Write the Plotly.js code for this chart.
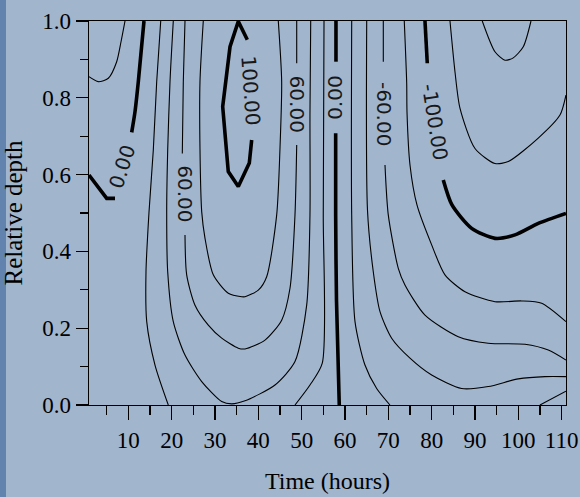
<!DOCTYPE html>
<html>
<head>
<meta charset="utf-8">
<script src="https://cdn.plot.ly/plotly-3.0.1.min.js"></script>
<style>
html, body { margin: 0; padding: 0; background: #a1b5cd; }
#chart { width: 580px; height: 497px; }
</style>
</head>
<body>
<div id="chart"></div>
<script>
// ---- Contour lines (x = time in hours, y = relative depth) ----
// level -20 (top-left corner)
const negTwentyTopLeftX = [0.93, 3.08, 5.39, 7.32, 8.32, 9.24];
const negTwentyTopLeftY = [0.855, 0.842, 0.851, 0.894, 0.946, 1.0];
// level 0 (left, split by its label)
const zeroLeftLowX = [0.93, 5.02, 6.93];
const zeroLeftLowY = [0.599, 0.538, 0.538];
const zeroLeftHighX = [10.78, 11.55, 12.31, 13.62];
const zeroLeftHighY = [0.710, 0.764, 0.842, 1.0];
// level 20 (left branch)
const twentyLeftX = [17.48, 16.55, 15.77, 14.78, 14.08, 14.25, 16.16, 19.23];
const twentyLeftY = [1.0, 0.842, 0.664, 0.503, 0.347, 0.217, 0.104, 0.0];
// level 40 (U shape)
const fortyX = [20.38, 19.62, 19.09, 18.86, 19.09, 20.38, 23.08, 26.94, 31.55, 33.86, 36.93, 43.85, 48.46, 51.16, 51.92, 51.92, 52.09];
const fortyY = [1.0, 0.842, 0.664, 0.503, 0.347, 0.217, 0.130, 0.061, 0.009, 0.003, 0.011, 0.052, 0.113, 0.260, 0.495, 0.755, 1.0];
// level 60 (U shape, two label gaps)
const sixtyLeftTopX = [23.08, 22.69, 22.46];
const sixtyLeftTopY = [1.0, 0.842, 0.655];
const sixtyMainX = [23.08, 23.47, 25.39, 28.46, 31.55, 35.38, 36.93, 41.54, 45.39, 47.31, 48.46, 48.86];
const sixtyMainY = [0.443, 0.339, 0.260, 0.208, 0.174, 0.148, 0.146, 0.169, 0.221, 0.304, 0.495, 0.677];
const sixtyRightTopX = [48.86, 48.86];
const sixtyRightTopY = [0.890, 1.0];
// level 80 (U shape)
const eightyX = [27.30, 26.54, 26.54, 26.94, 27.70, 29.61, 33.07, 36.17, 36.93, 40.00, 41.93, 44.24, 45.00, 45.39, 44.61];
const eightyY = [1.0, 0.842, 0.668, 0.503, 0.434, 0.339, 0.291, 0.282, 0.282, 0.299, 0.334, 0.495, 0.668, 0.842, 1.0];
// level 100 (closed loop at top)
const hundredX = [37.46, 35.38, 33.47, 31.78, 33.07, 35.38, 37.92, 38.47];
const hundredY = [0.951, 0.999, 0.933, 0.777, 0.608, 0.569, 0.630, 0.690];
// level 20 (right branch)
const twentyRightX = [55.16, 54.99, 54.76, 51.92, 48.46];
const twentyRightY = [1.0, 0.495, 0.109, 0.052, 0.0];
// level 0 (centre)
const zeroCentreTopX = [57.92, 57.92];
const zeroCentreTopY = [1.0, 0.894];
const zeroCentreLowX = [57.85, 57.85, 58.04, 58.68];
const zeroCentreLowY = [0.708, 0.495, 0.273, 0.0];
// level -20
const negTwentyX = [61.55, 61.55, 62.31, 64.61, 67.31, 70.38];
const negTwentyY = [1.0, 0.495, 0.217, 0.104, 0.043, 0.0];
// level -40
const negFortyX = [65.01, 65.19, 66.53, 68.08, 70.77, 75.00, 80.00, 86.93, 93.06, 99.99, 106.15, 110.99];
const negFortyY = [1.0, 0.508, 0.347, 0.243, 0.174, 0.122, 0.078, 0.043, 0.048, 0.068, 0.074, 0.074];
// level -60
const negSixtyTopX = [68.84, 68.84];
const negSixtyTopY = [1.0, 0.894];
const negSixtyLowX = [69.23, 69.99, 72.30, 73.84, 78.46, 86.14, 93.06, 101.53, 106.91, 110.99];
const negSixtyLowY = [0.625, 0.495, 0.356, 0.3125, 0.234, 0.178, 0.161, 0.158, 0.143, 0.117];
// level -80
const negEightyX = [73.68, 74.24, 74.31, 75.00, 76.61, 80.00, 83.07, 87.69, 94.61, 100.77, 105.39, 110.99];
const negEightyY = [1.0, 0.838, 0.763, 0.625, 0.521, 0.417, 0.339, 0.295, 0.269, 0.271, 0.265, 0.217];
// level -100
const negHundredTopX = [78.46, 78.99];
const negHundredTopY = [1.0, 0.890];
const negHundredLowX = [82.68, 84.69, 89.23, 94.61, 99.22, 104.60, 110.99];
const negHundredLowY = [0.586, 0.521, 0.460, 0.434, 0.443, 0.473, 0.499];
// level -120
const negOneTwentyX = [84.23, 85.38, 86.53, 90.00, 94.61, 97.68, 104.60, 109.61, 110.99];
const negOneTwentyY = [1.0, 0.868, 0.773, 0.668, 0.629, 0.634, 0.695, 0.755, 0.807];
// level -140 (small loop at top right)
const negOneFortyX = [91.68, 94.61, 96.92, 98.83, 101.14, 102.92];
const negOneFortyY = [1.0, 0.920, 0.898, 0.904, 0.933, 1.0];
// level -20 (bottom-right corner)
const negTwentyCornerX = [104.99, 110.99];
const negTwentyCornerY = [0.0, 0.036];

// contour labels
const labelText = ['0.00', '60.00', '100.00', '60.00', '0.00', '-60.00', '-100.00'];
const labelX = [8.55, 23.08, 38.2, 49.0, 57.8, 69.0, 80.8];
const labelY = [0.620, 0.549, 0.820, 0.784, 0.801, 0.758, 0.738];
const labelAngle = [-72, 90, 86, 90, -90, 90, 81];

// axis ticks
const xTickVals = [10, 20, 30, 40, 50, 60, 70, 80, 90, 100, 110];
const xTickText = ['10', '20', '30', '40', '50', '60', '70', '80', '90', '100', '110'];
const xMinorVals = [5, 15, 25, 35, 45, 55, 65, 75, 85, 95, 105];
const yTickVals = [0, 0.2, 0.4, 0.6, 0.8, 1.0];
const yTickText = ['0.0', '0.2', '0.4', '0.6', '0.8', '1.0'];
const yMinorVals = [0.1, 0.3, 0.5, 0.7, 0.9];

// ---- build traces ----
const THIN = 1.1, THICK = 3.6;
const lines = [
  [negTwentyTopLeftX, negTwentyTopLeftY, THIN, 'spline'],
  [zeroLeftLowX, zeroLeftLowY, THICK, 'linear'],
  [zeroLeftHighX, zeroLeftHighY, THICK, 'spline'],
  [twentyLeftX, twentyLeftY, THIN, 'spline'],
  [fortyX, fortyY, THIN, 'spline'],
  [sixtyLeftTopX, sixtyLeftTopY, THIN, 'spline'],
  [sixtyMainX, sixtyMainY, THIN, 'spline'],
  [sixtyRightTopX, sixtyRightTopY, THIN, 'linear'],
  [eightyX, eightyY, THIN, 'spline'],
  [hundredX, hundredY, THICK, 'linear'],
  [twentyRightX, twentyRightY, THIN, 'spline'],
  [zeroCentreTopX, zeroCentreTopY, THICK, 'linear'],
  [zeroCentreLowX, zeroCentreLowY, THICK, 'spline'],
  [negTwentyX, negTwentyY, THIN, 'spline'],
  [negFortyX, negFortyY, THIN, 'spline'],
  [negSixtyTopX, negSixtyTopY, THIN, 'linear'],
  [negSixtyLowX, negSixtyLowY, THIN, 'spline'],
  [negEightyX, negEightyY, THIN, 'spline'],
  [negHundredTopX, negHundredTopY, THICK, 'linear'],
  [negHundredLowX, negHundredLowY, THICK, 'spline'],
  [negOneTwentyX, negOneTwentyY, THIN, 'spline'],
  [negOneFortyX, negOneFortyY, THIN, 'spline'],
  [negTwentyCornerX, negTwentyCornerY, THIN, 'linear']
];
const traces = lines.map(function (l) {
  return {
    type: 'scatter', mode: 'lines', x: l[0], y: l[1],
    line: { color: '#000000', width: l[2], shape: l[3], smoothing: 0.7 },
    hoverinfo: 'skip', showlegend: false
  };
});

const annotations = labelText.map(function (t, i) {
  return {
    x: labelX[i], y: labelY[i], xref: 'x', yref: 'y', text: t,
    textangle: labelAngle[i], showarrow: false,
    font: { family: 'DejaVu Sans', size: 20, color: '#181818' }
  };
});

const serif = 'Liberation Serif, Times New Roman, serif';
const W = 477, H = 384;

const layout = {
  width: 580, height: 497,
  margin: { l: 89, r: 14, t: 21, b: 92 },
  paper_bgcolor: '#a1b5cd',
  plot_bgcolor: 'rgba(0,0,0,0)',
  showlegend: false,
  xaxis: {
    range: [0.93, 111],
    tickmode: 'array', tickvals: xTickVals, ticktext: xTickText,
    ticks: 'outside', ticklen: 14, tickwidth: 1.3, tickcolor: '#000',
    showline: true, linecolor: '#000', linewidth: 1.3, mirror: true,
    showgrid: false, zeroline: false,
    tickfont: { family: serif, size: 23, color: '#000' },
    minor: { tickmode: 'array', tickvals: xMinorVals, ticks: 'outside', ticklen: 9, tickwidth: 1.3, tickcolor: '#000', showgrid: false },
    title: { text: 'Time (hours)', font: { family: serif, size: 24, color: '#000' }, standoff: 20 }
  },
  yaxis: {
    range: [0, 1],
    tickmode: 'array', tickvals: yTickVals, ticktext: yTickText,
    ticks: 'outside', ticklen: 12, tickwidth: 1.3, tickcolor: '#000',
    showline: true, linecolor: '#000', linewidth: 1.3, mirror: true,
    showgrid: false, zeroline: false,
    tickfont: { family: serif, size: 23, color: '#000' },
    minor: { tickmode: 'array', tickvals: yMinorVals, ticks: 'outside', ticklen: 8, tickwidth: 1.3, tickcolor: '#000', showgrid: false },
    title: { text: 'Relative depth', font: { family: serif, size: 25, color: '#000' }, standoff: 17 }
  },
  shapes: [
    { type: 'rect', xref: 'paper', yref: 'paper', layer: 'below',
      x0: -89 / W, x1: -83 / W, y0: -92 / H, y1: 1 + 21 / H,
      fillcolor: '#6283ad', line: { width: 0 } }
  ],
  annotations: annotations
};

Plotly.newPlot('chart', traces, layout, { staticPlot: true, displayModeBar: false });
</script>
</body>
</html>
